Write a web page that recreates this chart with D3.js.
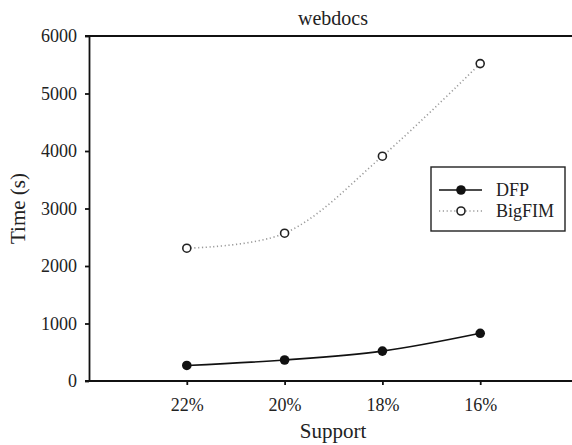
<!DOCTYPE html>
<html>
<head>
<meta charset="utf-8">
<script src="https://cdn.jsdelivr.net/npm/d3@7"></script>
<style>
  body { margin: 0; background: #fff; }
  svg text { font-family: "Liberation Serif", "Times New Roman", serif; }
</style>
</head>
<body>
<script>
// données
const supports = ['22%', '20%', '18%', '16%'];
const dfpTimes = [270, 365, 520, 830];
const bigfimTimes = [2310, 2570, 3910, 5520];
const yTicks = [0, 1000, 2000, 3000, 4000, 5000, 6000];

const width = 572;
const height = 445;
const margin = { top: 36, right: -6, bottom: 64, left: 89 };
const serif = 'Liberation Serif';

const svg = d3.select('body')
  .append('svg')
  .attr('width', width)
  .attr('height', height);

// échelles
const x = d3.scalePoint()
  .domain(supports)
  .range([margin.left, width - margin.right])
  .padding(1);

const y = d3.scaleLinear()
  .domain([0, 6000])
  .range([height - margin.bottom, margin.top]);

// bord du haut
svg.append('line')
  .attr('x1', margin.left - 4)
  .attr('x2', width)
  .attr('y1', y(6000))
  .attr('y2', y(6000))
  .attr('stroke', '#111')
  .attr('stroke-width', 1.8);

// axe vertical
svg.append('g')
  .attr('transform', `translate(${margin.left}, 0)`)
  .call(d3.axisLeft(y).tickValues(yTicks).tickFormat(d3.format('d'))
    .tickSize(4).tickPadding(8).tickSizeOuter(0))
  .attr('font-family', serif)
  .attr('font-size', 18)
  .call(g => g.selectAll('line, path').attr('stroke', '#111').attr('stroke-width', 1.8))
  .call(g => g.selectAll('text').attr('fill', '#222'));

// axe horizontal
svg.append('g')
  .attr('transform', `translate(0, ${y(0)})`)
  .call(d3.axisBottom(x).tickSize(4).tickPadding(13).tickSizeOuter(0))
  .attr('font-family', serif)
  .attr('font-size', 18)
  .call(g => g.select('.domain').attr('d', `M${margin.left - 4},0H${width}`))
  .call(g => g.selectAll('line, path').attr('stroke', '#111').attr('stroke-width', 1.8))
  .call(g => g.selectAll('text').attr('fill', '#222'));

// titres
svg.append('text')
  .attr('x', 333)
  .attr('y', 25)
  .attr('text-anchor', 'middle')
  .attr('font-family', serif)
  .attr('font-size', 20)
  .attr('fill', '#222')
  .text('webdocs');

svg.append('text')
  .attr('x', 333)
  .attr('y', 438)
  .attr('text-anchor', 'middle')
  .attr('font-family', serif)
  .attr('font-size', 21)
  .attr('fill', '#222')
  .text('Support');

svg.append('text')
  .attr('transform', `translate(25, ${(y(0) + y(6000)) / 2}) rotate(-90)`)
  .attr('text-anchor', 'middle')
  .attr('font-family', serif)
  .attr('font-size', 21)
  .attr('fill', '#222')
  .text('Time (s)');

// courbes
const line = d3.line()
  .x((d, i) => x(supports[i]))
  .y(d => y(d))
  .curve(d3.curveCatmullRom);

svg.append('path')
  .datum(bigfimTimes)
  .attr('d', line)
  .attr('fill', 'none')
  .attr('stroke', '#999')
  .attr('stroke-width', 1.6)
  .attr('stroke-dasharray', '1.2,2.6');

svg.append('path')
  .datum(dfpTimes)
  .attr('d', line)
  .attr('fill', 'none')
  .attr('stroke', '#111')
  .attr('stroke-width', 1.6);

// points
svg.append('g')
  .selectAll('circle')
  .data(bigfimTimes)
  .join('circle')
    .attr('cx', (d, i) => x(supports[i]))
    .attr('cy', d => y(d))
    .attr('r', 4)
    .attr('fill', '#fff')
    .attr('stroke', '#222')
    .attr('stroke-width', 1.6);

svg.append('g')
  .selectAll('circle')
  .data(dfpTimes)
  .join('circle')
    .attr('cx', (d, i) => x(supports[i]))
    .attr('cy', d => y(d))
    .attr('r', 4.8)
    .attr('fill', '#111');

// légende
const legend = svg.append('g').attr('transform', 'translate(431, 167)');
legend.append('rect')
  .attr('width', 134)
  .attr('height', 64)
  .attr('fill', '#fff')
  .attr('stroke', '#222')
  .attr('stroke-width', 1.4);

const items = [
  { name: 'DFP', y: 23, solid: true },
  { name: 'BigFIM', y: 44, solid: false }
];

items.forEach(it => {
  legend.append('line')
    .attr('x1', 8).attr('x2', 51)
    .attr('y1', it.y).attr('y2', it.y)
    .attr('stroke', it.solid ? '#111' : '#999')
    .attr('stroke-width', 1.6)
    .attr('stroke-dasharray', it.solid ? null : '1.2,2.6');
  legend.append('circle')
    .attr('cx', 30).attr('cy', it.y)
    .attr('r', it.solid ? 4.8 : 4)
    .attr('fill', it.solid ? '#111' : '#fff')
    .attr('stroke', it.solid ? null : '#222')
    .attr('stroke-width', 1.6);
  legend.append('text')
    .attr('x', 65).attr('y', it.y)
    .attr('dy', '0.33em')
    .attr('font-family', serif)
    .attr('font-size', 18)
    .attr('fill', '#222')
    .text(it.name);
});
</script>
</body>
</html>
